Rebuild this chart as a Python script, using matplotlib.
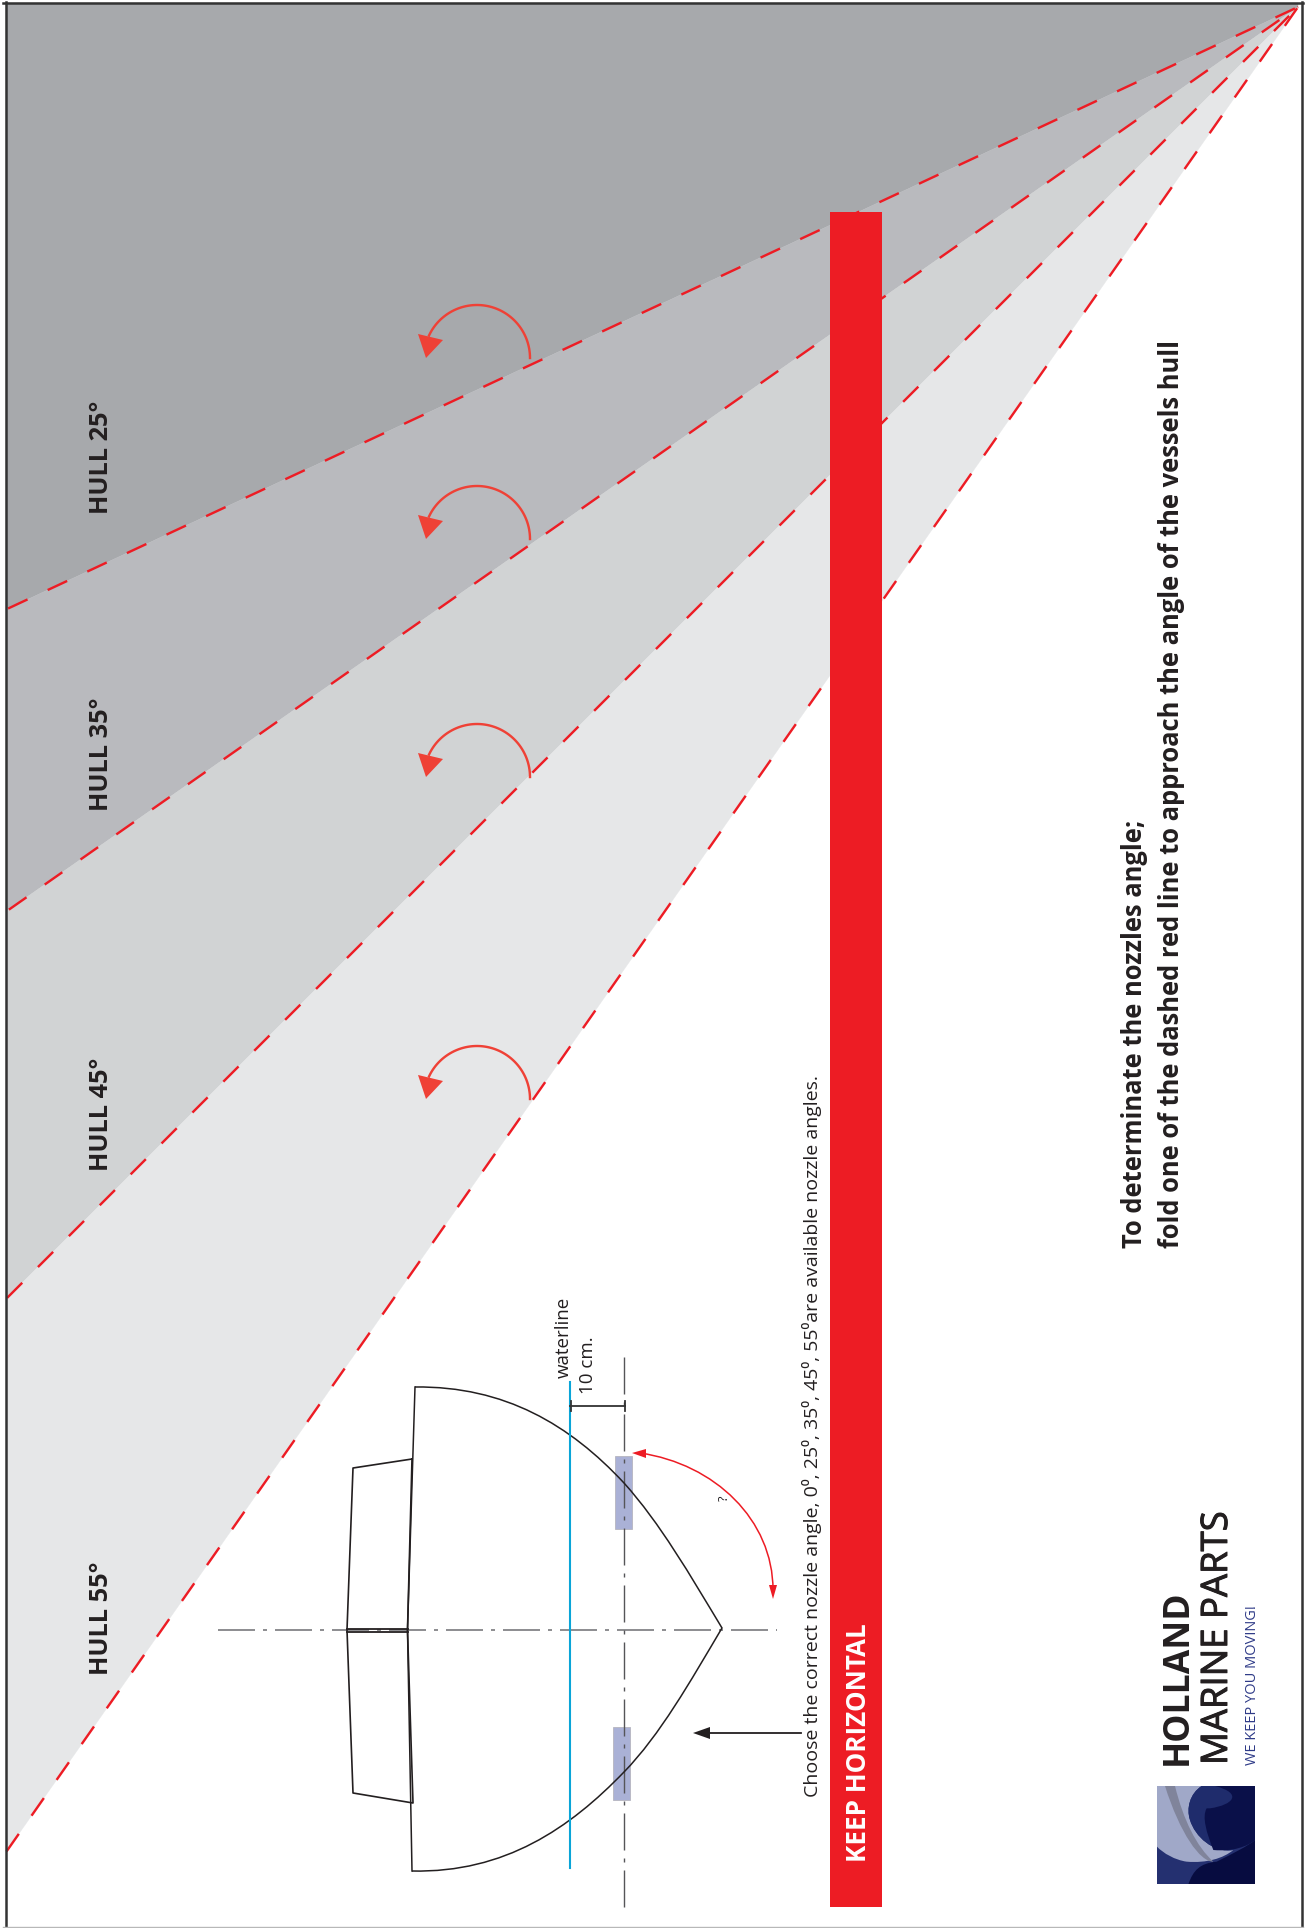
import numpy as np
import matplotlib
matplotlib.use("Agg")
import matplotlib.pyplot as plt
import matplotlib.patheffects as pe
from matplotlib.path import Path
from matplotlib.patches import PathPatch, Polygon, Rectangle

plt.rcParams['font.family'] = ['Open Sans', 'DejaVu Sans']
plt.rcParams['lines.scale_dashes'] = False

hull_angles = [25, 35, 45, 55]
hull_labels = ["HULL 25°", "HULL 35°", "HULL 45°", "HULL 55°"]
hull_label_y = [514, 811, 1171, 1675]
fold_arc_cy = [358, 539, 777, 1099]
wedge_colors = ["#a7a9ac", "#b9babe", "#d1d3d4", "#e6e7e8"]
dash_phase = [3.4, 22.7, 12.5, 1.5]

W, H = 1305, 1928
PT = 72 / 100
apex = (1298, 7)
left = 6

fig = plt.figure(figsize=(W / 100, H / 100), dpi=100, facecolor="white")
ax = fig.add_axes([0, 0, 1, 1])
ax.set_xlim(0, W)
ax.set_ylim(H, 0)
ax.axis("off")


def y_left(a):
    return apex[1] + (apex[0] - left) * np.tan(np.radians(a))


# wedges
last = None
for a, c in zip(hull_angles, wedge_colors):
    if last is None:
        poly = [apex, (left, y_left(a)), (left, 3), (apex[0], 3)]
    else:
        poly = [apex, (left, y_left(a)), (left, y_left(last))]
    ax.add_patch(Polygon(poly, closed=True, fc=c, ec=c, lw=0.3, zorder=1))
    last = a

# dashed fold lines
period = 43.7
for a, ph in zip(hull_angles, dash_phase):
    ax.plot([apex[0], left], [apex[1], y_left(a)], color="#ed1c24", lw=2.4 * PT,
            linestyle=((period - ph) * PT, (21.5 * PT, (period - 21.5) * PT)),
            dash_capstyle="butt", zorder=2)

# fold arrows
for cy in fold_arc_cy:
    t = np.radians(np.linspace(0, 155, 60))
    ax.plot(477 + 53 * np.cos(t), cy - 53 * np.sin(t), color="#ef4136", lw=2.4 * PT, zorder=3)
    ax.add_patch(Polygon([(418, cy - 24), (443, cy - 18), (426, cy)], closed=True,
                         fc="#ef4136", ec="none", zorder=3))

# horizontal bar
ax.add_patch(Rectangle((830, 212), 51.5, 1695, fc="#ed1c24", ec="none", zorder=4))
ax.text(866, 1862, "KEEP HORIZONTAL", rotation=90, rotation_mode="anchor", ha="left",
        va="baseline", color="white", fontsize=18.7, fontweight="bold", zorder=5)

# hull labels
for lab, y in zip(hull_labels, hull_label_y):
    ax.text(107.5, y, lab, rotation=90, rotation_mode="anchor", ha="left", va="baseline",
            color="#231f20", fontsize=18.3, fontweight="bold", zorder=5)

# nozzles
for x0, y0, h in [(615, 1456, 73), (613, 1727, 73)]:
    ax.add_patch(Rectangle((x0, y0), 17, h, fc="#aab1d6", ec="#b5b5c0", lw=0.6, zorder=3))

# centre lines
dd = (37 * PT, 8 * PT, 4 * PT, 8 * PT)
ax.plot([218, 777], [1630, 1630], color="#6d6e71", lw=1.1, dashes=dd, zorder=4, dash_capstyle="butt")
ax.plot([623.5, 623.5], [1357, 1910], color="#555558", lw=1.0, dashes=dd, zorder=4, dash_capstyle="butt")

# hull outline
hull_c = "#231f20"
v = [(415, 1387), (505, 1386), (570, 1425), (624, 1483), (660, 1523), (690, 1575), (722, 1628),
     (690, 1682), (660, 1735), (624, 1772), (570, 1828), (505, 1873), (412, 1871)]
codes = [Path.MOVETO] + [Path.CURVE4] * 12
ax.add_patch(PathPatch(Path(v, codes), fc="none", ec=hull_c, lw=1.1, zorder=5))
ax.plot([415, 407.5, 412], [1387, 1630, 1871], color=hull_c, lw=1.1, zorder=5)
ax.plot([412, 353, 347, 353, 413, 407.5, 412], [1459, 1468, 1630, 1793, 1803, 1630, 1459],
        color=hull_c, lw=1.2, zorder=5)
ax.plot([347, 407.5], [1629, 1629], color=hull_c, lw=1.3, zorder=5)
ax.plot([347, 407.5], [1632, 1632], color=hull_c, lw=1.3, zorder=5)

# waterline + dimension
ax.plot([570, 570], [1382, 1868], color="#0aa5d8", lw=1.5, zorder=5)
ax.plot([570, 625], [1406, 1406], color="#333333", lw=1.3, zorder=5)
ax.plot([571, 571], [1401, 1411], color="#333333", lw=1.3, zorder=5)
ax.plot([625, 625], [1401, 1411], color="#333333", lw=1.3, zorder=5)

# question arc
va = [(640, 1453), (715, 1464), (773, 1520), (773, 1590)]
ax.add_patch(PathPatch(Path(va, [Path.MOVETO] + [Path.CURVE4] * 3), fc="none", ec="#ed1c24", lw=1.1, zorder=5))
ax.add_patch(Polygon([(632, 1453), (646, 1449), (646, 1458)], closed=True, fc="#ed1c24", ec="none", zorder=5))
ax.add_patch(Polygon([(773, 1599), (769, 1585), (777, 1585)], closed=True, fc="#ed1c24", ec="none", zorder=5))

# black arrow
ax.plot([801, 705], [1733, 1733], color="#231f20", lw=1.3, zorder=5)
ax.add_patch(Polygon([(693, 1733), (710, 1727), (710, 1739)], closed=True, fc="#231f20", ec="none", zorder=5))

tc = "#231f20"


def rt(x, y, s, size, weight="normal", color=tc, **kw):
    return ax.text(x, y, s, rotation=90, rotation_mode="anchor", ha="left", va="baseline",
                   fontsize=size, fontweight=weight, color=color, zorder=6, **kw)


rt(569, 1378, "waterline", 13.5)
rt(593, 1394, "10 cm.", 13.5)
rt(728, 1501, "?", 9)
rt(818, 1797, "Choose the correct nozzle angle, 0⁰, 25⁰, 35⁰, 45⁰, 55⁰are available nozzle angles.", 14)
rt(1142, 1248, "To determinate the nozzles angle;", 18.4, "bold")
rt(1179, 1248, "fold one of the dashed red line to approach the angle of the vessels hull", 18.4, "bold")
rt(1187, 1765, "HOLLAND", 25.6, "bold")
rt(1227, 1765, "MARINE PARTS", 26.3, "normal",
   path_effects=[pe.withStroke(linewidth=0.7, foreground=tc)])
rt(1256, 1765, "WE KEEP YOU MOVING!", 10.5, "normal", "#2e3a87")

# logo
lx, ly = 1100, 1500


def z(pts):
    return [(lx + a / 3, ly + b / 3) for a, b in pts]


clip = Rectangle((1157, 1786), 98.3, 98.3, transform=ax.transData)
ax.add_patch(Rectangle((1157, 1786), 98.3, 98.3, fc="#243070", ec="none", zorder=5))
M, C, L, E = Path.MOVETO, Path.CURVE4, Path.LINETO, Path.CLOSEPOLY
shapes = [
    ([(171, 858), (305, 858), (270, 880), (258, 925), (270, 960), (285, 1010), (340, 1060), (400, 1050),
      (370, 1075), (320, 1090), (260, 1085), (225, 1080), (190, 1060), (171, 1040), (171, 858)],
     [M, L, C, C, C, C, C, C, C, C, C, C, C, C, E], "#a0a8c8"),
    ([(195, 858), (225, 858), (250, 960), (290, 1040), (340, 1085), (300, 1086), (240, 1000), (195, 858)],
     [M, L, C, C, C, L, L, E][:1] + [L, C, C, C, C, C, E], "#80849b"),
    ([(305, 858), (466, 858), (466, 1010), (400, 1050), (340, 1060), (285, 1010), (270, 960), (258, 925),
      (270, 880), (305, 858)],
     [M, L, L, L, C, C, C, C, C, C], "#1f2c6c"),
    ([(345, 858), (466, 858), (466, 1020), (440, 1040), (400, 1055), (340, 1050), (320, 1000), (305, 950),
      (320, 925), (330, 925), (400, 915), (430, 880), (345, 858)],
     [M, L, L, C, C, C, C, C, C, L, C, C, L][:-1] + [E], "#0a1049"),
    ([(265, 1153), (280, 1110), (300, 1090), (350, 1085), (400, 1060), (440, 1040), (466, 1020), (466, 1153), (265, 1153)],
     [M, C, C, C, C, C, C, L, E], "#070c40"),
]
for pts, cds, col in shapes:
    p = PathPatch(Path(z(pts), cds), fc=col, ec="none", zorder=5)
    ax.add_patch(p)
    p.set_clip_path(clip)

# frame
ax.plot([left, left], [2, 1927], color="#333333", lw=1.8, zorder=7)
ax.plot([3, 1303], [3, 3], color="#333333", lw=1.8, zorder=7)
ax.plot([1302, 1302], [2, 1927], color="#333333", lw=1.8, zorder=7)
ax.plot([3, 1303], [1927, 1927], color="#b8b8b8", lw=1.0, zorder=7)

fig.savefig("out.png", dpi=100)
